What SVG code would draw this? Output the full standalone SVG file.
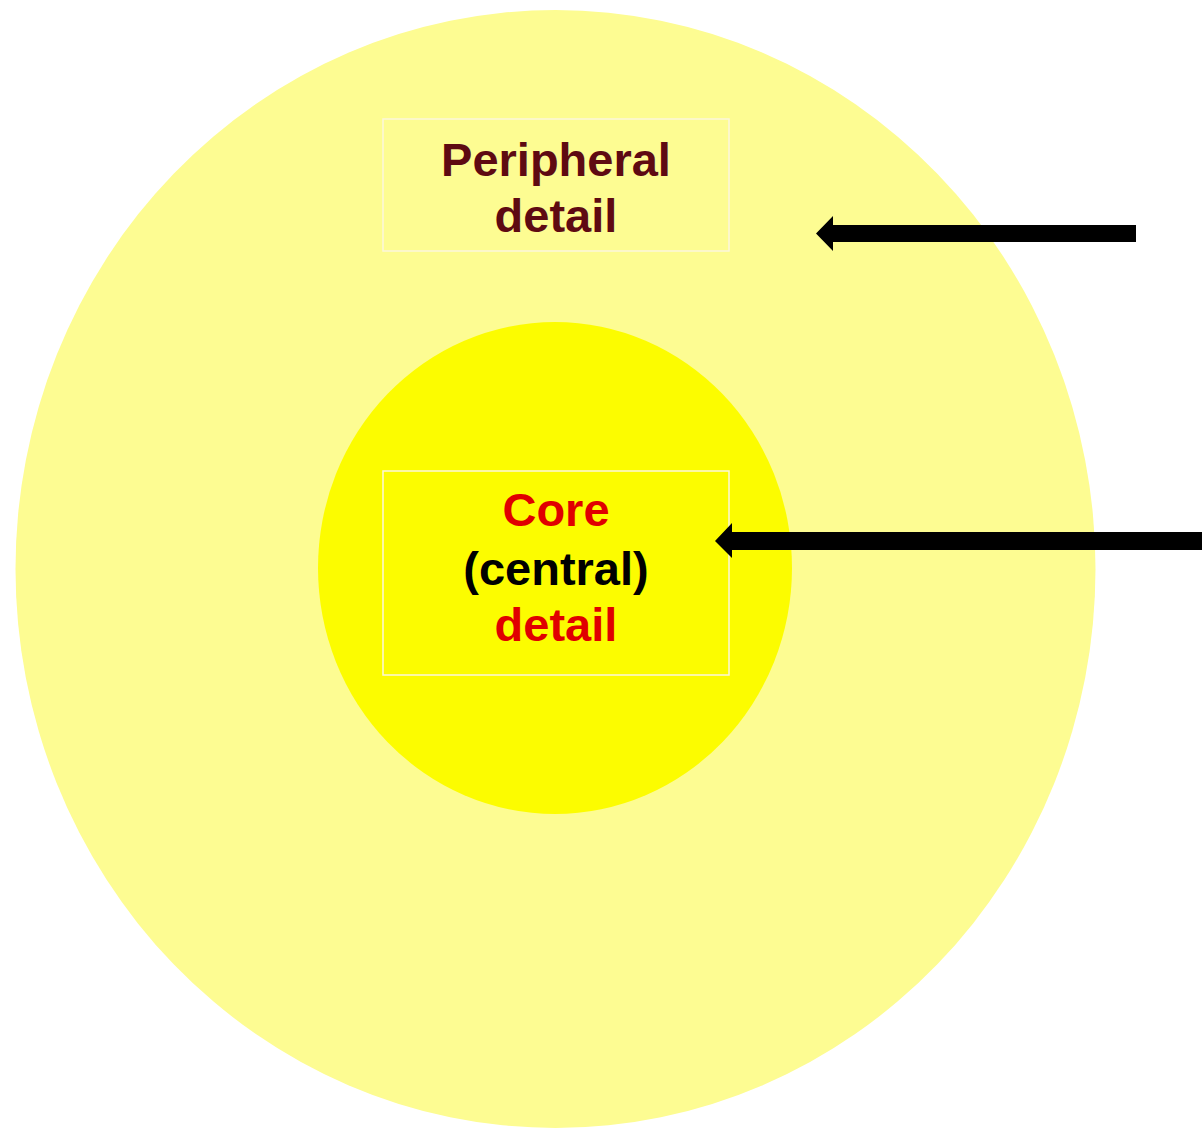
<svg xmlns="http://www.w3.org/2000/svg" width="1202" height="1128" viewBox="0 0 1202 1128">
  <style>
    .lbl { font-family: "Liberation Sans", Arial, sans-serif; font-weight: bold; font-size: 47px; text-anchor: middle; }
    .box { fill: none; stroke: #fbf6dc; stroke-width: 1.5; }
    .arrow { fill: #000000; }
  </style>
  <rect x="0" y="0" width="1202" height="1128" fill="#ffffff"/>
  <g id="outer">
    <ellipse cx="555.5" cy="569" rx="540" ry="559" fill="#fdfc92"/>
  </g>
  <g id="inner">
    <ellipse cx="555" cy="568" rx="237" ry="246" fill="#fcfc00"/>
  </g>
  <g id="peripheral">
    <rect class="box" x="383" y="119" width="346" height="132"/>
    <text class="lbl" x="556" y="176" fill="#5e0a12">Peripheral</text>
    <text class="lbl" x="556" y="232" fill="#5e0a12">detail</text>
  </g>
  <g id="core">
    <rect class="box" x="383" y="471" width="346" height="204"/>
    <text class="lbl" x="556" y="526" fill="#e00000">Core</text>
    <text class="lbl" x="556" y="585" fill="#000000">(central)</text>
    <text class="lbl" x="556" y="641" fill="#e00000">detail</text>
  </g>
  <g id="connectors">
    <polygon class="arrow" points="1136,225 833,225 833,216 816,233.5 833,251 833,242 1136,242"/>
    <polygon class="arrow" points="1202,532 732,532 732,523 715,541 732,558 732,550 1202,550"/>
  </g>
</svg>
